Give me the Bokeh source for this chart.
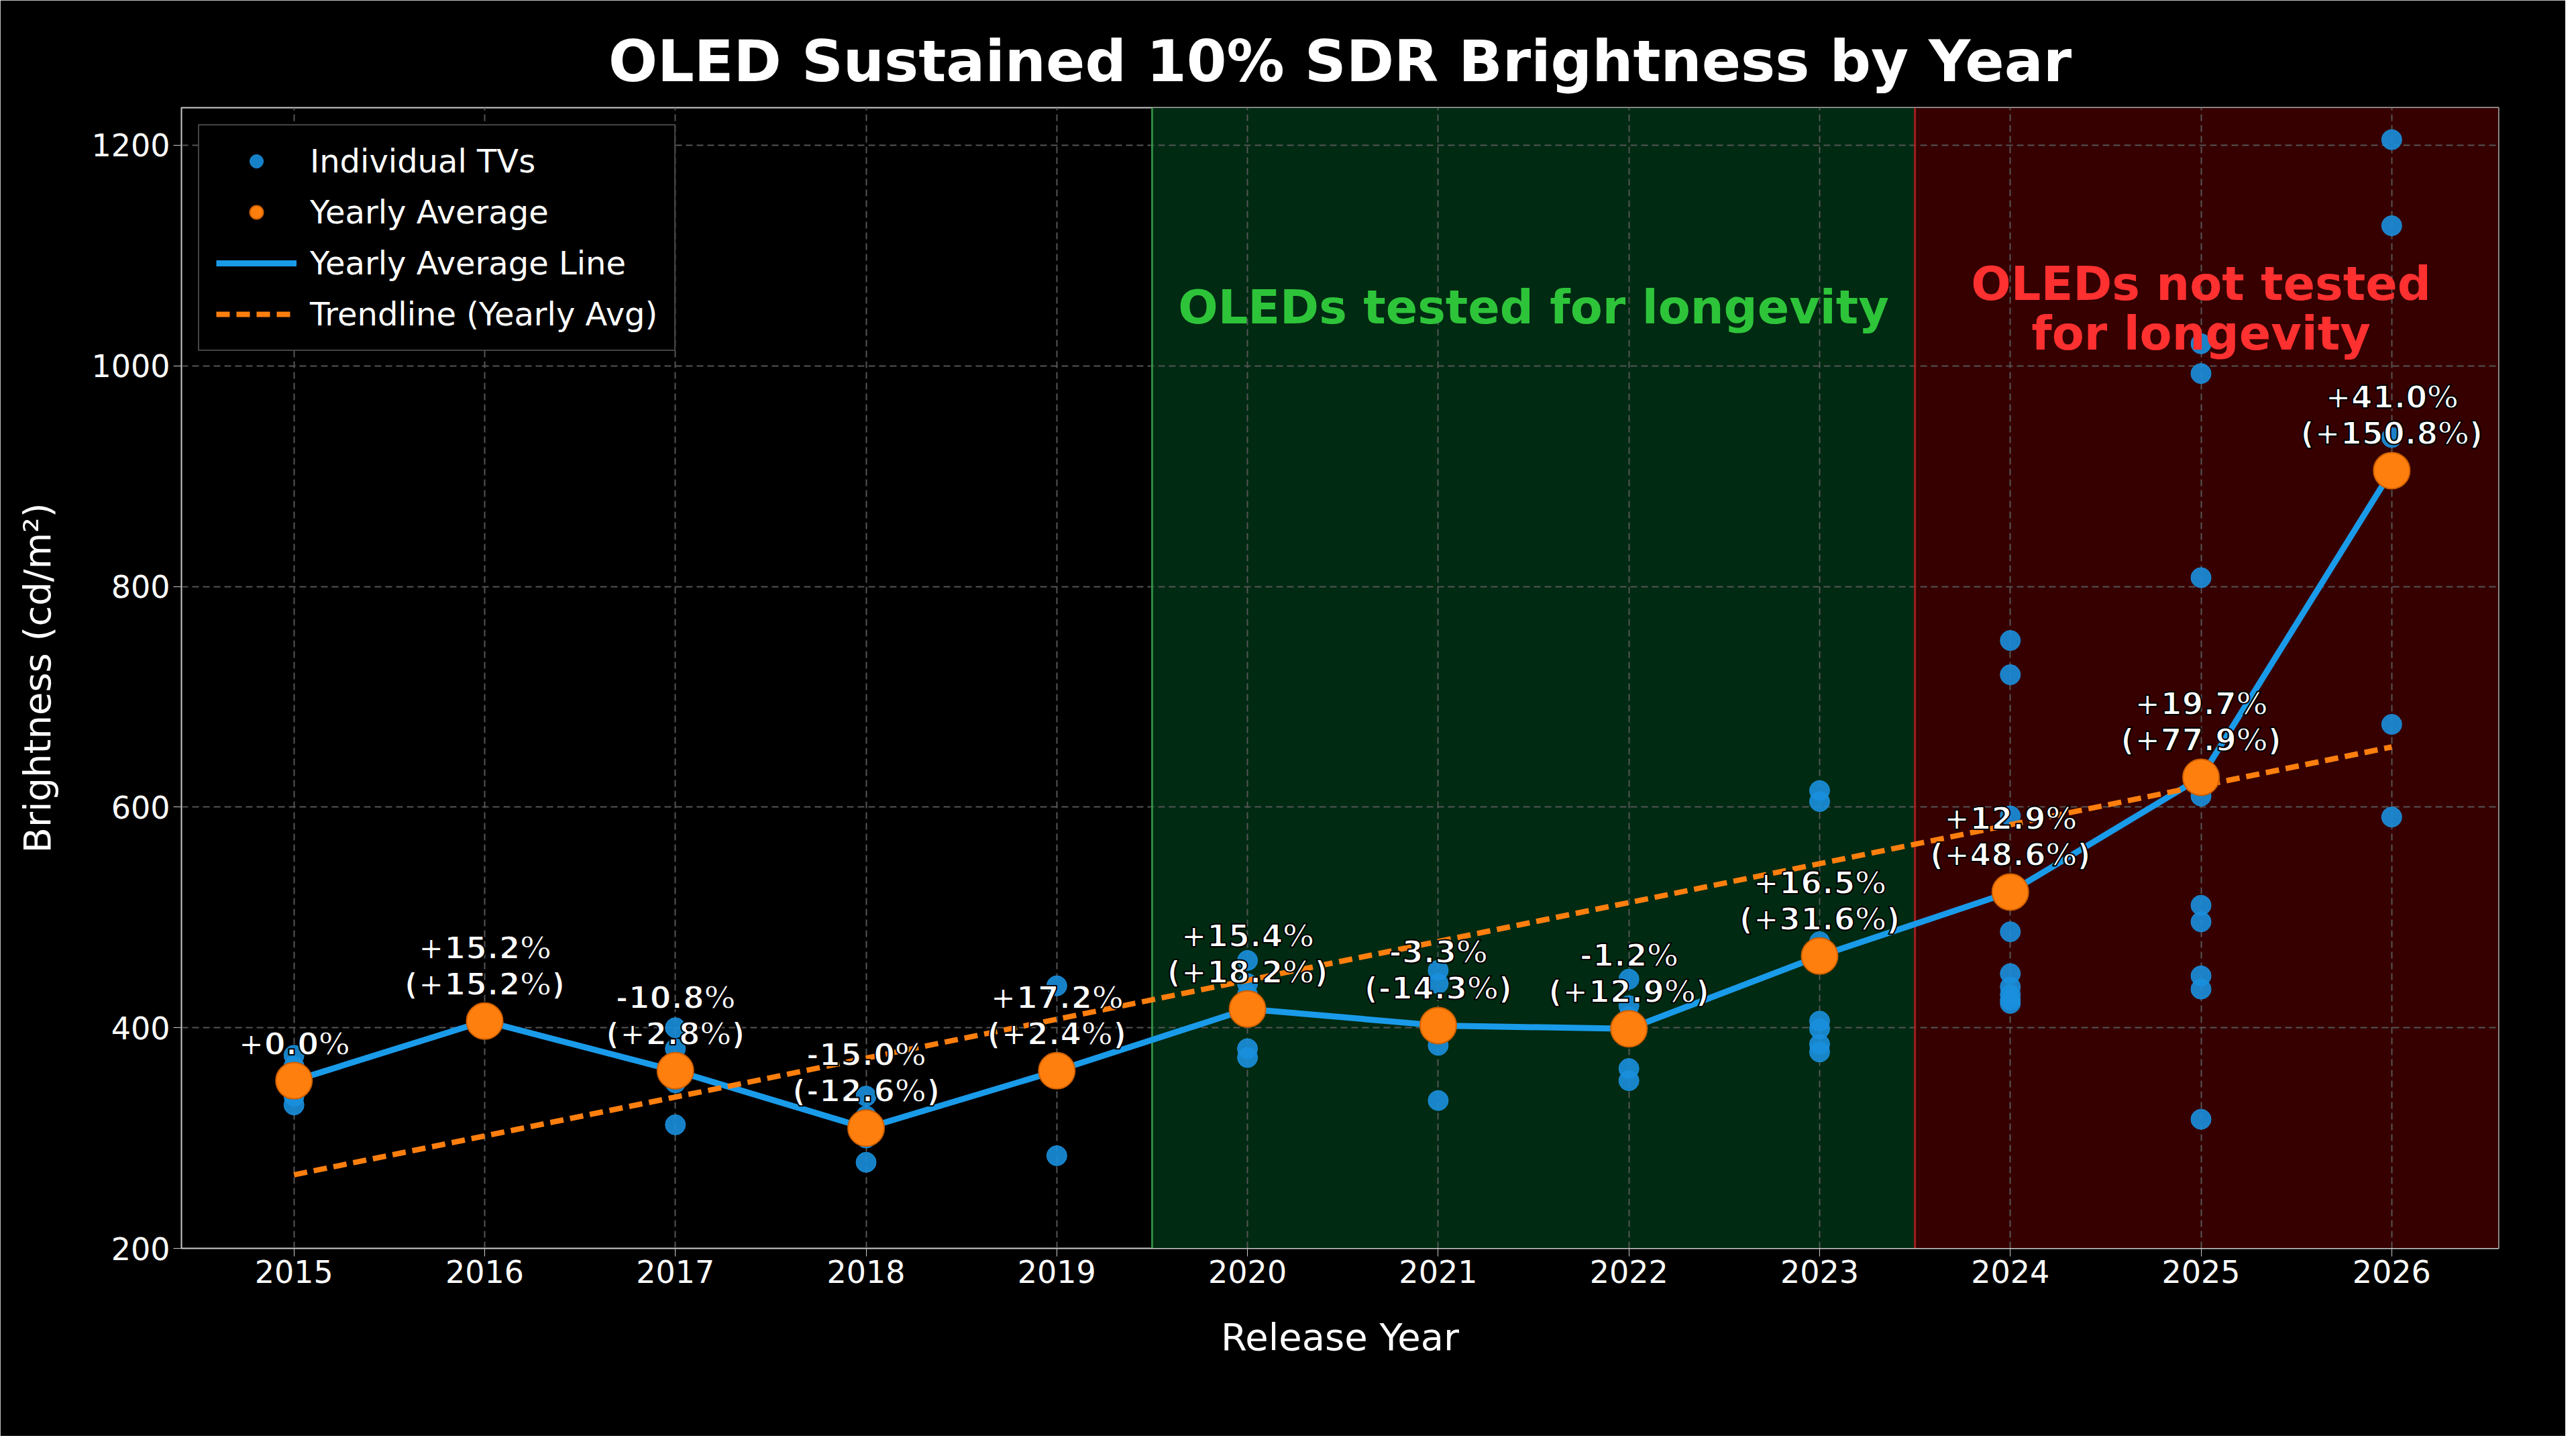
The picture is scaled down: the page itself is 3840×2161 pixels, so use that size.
import numpy as np
from bokeh.plotting import figure
from bokeh.models import ColumnDataSource, Legend, LegendItem, Range1d, FixedTicker, Label
from bokeh.core.properties import value
from bokeh.embed import file_html
from bokeh.resources import INLINE

years = [2015, 2016, 2017, 2018, 2019, 2020, 2021, 2022, 2023, 2024, 2025, 2026]
yearly_avg = [352, 406, 361, 309, 361, 417, 402, 399, 465, 523, 627, 905]
individual = {
    2015: [330, 338, 365, 375],
    2016: [406],
    2017: [312, 350, 381, 400],
    2018: [278, 300, 320, 338],
    2019: [284, 438],
    2020: [373, 381, 430, 440, 461],
    2021: [334, 384, 440, 452],
    2022: [352, 363, 405, 420, 444, 410],
    2023: [615, 605, 478, 465, 406, 399, 385, 378],
    2024: [751, 720, 592, 487, 449, 437, 430, 425, 422],
    2025: [1020, 993, 808, 627, 610, 511, 496, 447, 435, 317],
    2026: [1205, 1127, 935, 675, 591],
}
pct_labels = ["+0.0%", "+15.2%\n(+15.2%)", "-10.8%\n(+2.8%)", "-15.0%\n(-12.6%)",
              "+17.2%\n(+2.4%)", "+15.4%\n(+18.2%)", "-3.3%\n(-14.3%)", "-1.2%\n(+12.9%)",
              "+16.5%\n(+31.6%)", "+12.9%\n(+48.6%)", "+19.7%\n(+77.9%)", "+41.0%\n(+150.8%)"]

FONT = "DejaVu Sans"
ix = [y for y in years for _ in individual[y]]
iy = [v for y in years for v in individual[y]]
slope, icpt = np.polyfit(years, yearly_avg, 1)
trend = [slope * y + icpt for y in years]

p = figure(width=3824, height=2140, output_backend="svg", toolbar_location=None,
           x_range=Range1d(2014.41, 2026.56), y_range=Range1d(200, 1234),
           background_fill_color="black", border_fill_color="black",
           min_border_left=270, min_border_right=100, min_border_top=160, min_border_bottom=280)
p.title.text = "OLED Sustained 10% SDR Brightness by Year"
p.title.text_color = "white"
p.title.text_font = FONT
p.title.text_font_size = "86px"
p.title.align = "center"
p.title.offset = 0
p.title.standoff = 40

g = p.quad(left=[2019.5], right=[2023.5], bottom=[200], top=[1234], fill_color="#002a12", line_color=None)
r = p.quad(left=[2023.5], right=[2026.56], bottom=[200], top=[1234], fill_color="#360000", line_color=None)
g.level = "image"; r.level = "image"
p.line(x=[2019.5, 2019.5], y=[200, 1234], line_color="#2e8b3e", line_width=3)
p.line(x=[2023.5, 2023.5], y=[200, 1234], line_color="#a02020", line_width=3)

for ax in (p.xaxis, p.yaxis):
    ax.axis_line_color = "#cccccc"
    ax.major_tick_line_color = "#cccccc"
    ax.minor_tick_line_color = None
    ax.major_label_text_color = "white"
    ax.major_label_text_font = FONT
    ax.major_label_text_font_size = "46px"
    ax.axis_label_text_color = "white"
    ax.axis_label_text_font = FONT
    ax.axis_label_text_font_size = "56px"
    ax.axis_label_text_font_style = "normal"
    ax.major_tick_out = 12
    ax.major_tick_in = 0
    ax.axis_label_standoff = 45
p.xaxis.axis_label = "Release Year"
p.yaxis.axis_label = "Brightness (cd/m²)"
p.xaxis.ticker = FixedTicker(ticks=years)
p.yaxis.ticker = FixedTicker(ticks=[200, 400, 600, 800, 1000, 1200])
p.grid.grid_line_color = "#555555"
p.grid.grid_line_dash = "10 6"
p.grid.grid_line_width = 2
p.outline_line_color = "#cccccc"
p.outline_line_width = 2

sc = p.scatter(ix, iy, size=30, fill_color="#1a8fdd", line_color="#1a8fdd", fill_alpha=0.9)
ln = p.line(years, yearly_avg, line_color="#1a9bea", line_width=9)
tr = p.line(years, trend, line_color="#ff7f0e", line_width=8, line_dash="20 10")
av = p.scatter(years, yearly_avg, size=54, fill_color="#ff7f0e", line_color="#d06000", line_width=2)

src = ColumnDataSource(dict(x=years, y=yearly_avg, t=pct_labels))
p.text(x="x", y="y", text="t", source=src, text_color="white", text_font=value(FONT),
       text_font_style="bold", text_font_size="46px", text_align="center",
       text_baseline="bottom", y_offset=-28, text_line_height=1.0,
       text_outline_color="black")

p.add_layout(Label(x=2021.5, y=1053, text="OLEDs tested for longevity", text_color="#2ec43a",
                   text_font=FONT, text_font_style="bold", text_font_size="70px",
                   text_align="center", text_baseline="middle"))
p.add_layout(Label(x=2025.0, y=1052, text="OLEDs not tested\nfor longevity", text_color="#ff3030",
                   text_font=FONT, text_font_style="bold", text_font_size="70px",
                   text_align="center", text_baseline="middle", text_line_height=0.9))

legend = Legend(items=[LegendItem(label="Individual TVs", renderers=[sc]),
                       LegendItem(label="Yearly Average", renderers=[av]),
                       LegendItem(label="Yearly Average Line", renderers=[ln]),
                       LegendItem(label="Trendline (Yearly Avg)", renderers=[tr])],
                location="top_left")
legend.background_fill_color = "black"
legend.background_fill_alpha = 1
legend.border_line_color = "#888888"
legend.border_line_width = 2
legend.label_text_color = "white"
legend.label_text_font = FONT
legend.label_text_font_size = "48px"
legend.glyph_width = 120
legend.glyph_height = 50
legend.label_height = 50
legend.label_standoff = 20
legend.spacing = 20
legend.padding = 25
legend.margin = 25
p.add_layout(legend)

open("out.html", "w").write(file_html(p, INLINE))
